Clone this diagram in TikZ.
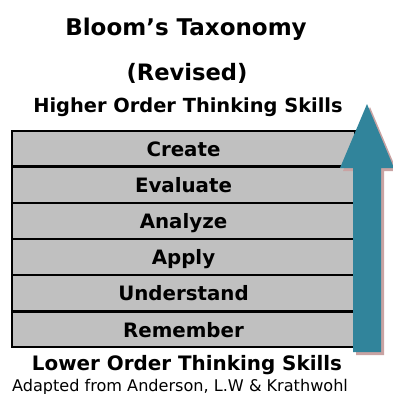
\documentclass[tikz,border=0pt]{standalone}
\usepackage{fontspec}
\setmainfont{DejaVu Sans}
\usetikzlibrary{positioning}

\definecolor{rowgray}{HTML}{C0C0C0}
\definecolor{arrowteal}{HTML}{31849B}
\definecolor{shadowpink}{HTML}{C9A3A3}

\tikzset{
  level/.style={draw=black,line width=1.2pt,fill=rowgray,minimum width=343pt,
    minimum height=35pt,inner sep=0pt,text height=15pt,text depth=0pt,
    font=\fontsize{19.8}{19.8}\selectfont\bfseries},
  heading/.style={inner sep=0pt,anchor=base,font=\fontsize{#1}{#1}\selectfont\bfseries},
  source/.style={inner sep=0pt,anchor=base,font=\fontsize{16.1}{16.1}\selectfont}
}

\begin{document}
\begin{tikzpicture}[x=1pt,y=-1pt]
\useasboundingbox (0,0) rectangle (392,394);
\node[heading=23] (title) at (186,35) {Bloom’s Taxonomy};
\node[heading=22.6] (revised) at (187,80) {(Revised)};
\node[heading=19.4] (higher) at (188,112) {Higher Order Thinking Skills};
% the six levels, top to bottom
\node[level] (create) at (183.5,148.5) {Create};
\node[level,below=0pt of create] (evaluate) {Evaluate};
\node[level,below=0pt of evaluate] (analyze) {Analyze};
\node[level,below=0pt of analyze] (apply) {Apply};
\node[level,below=0pt of apply] (understand) {Understand};
\node[level,below=0pt of understand] (remember) {Remember};
\node[heading=19.9] (lower) at (187,370) {Lower Order Thinking Skills};
\node[source] (adapted) at (180,391) {Adapted from Anderson, L.W \& Krathwohl};
% upward arrow with its shadow
\fill[shadowpink] (370,107)--(397,171)--(384,171)--(384,355)--(356,355)--(356,171)--(343,171)--cycle;
\fill[arrowteal] (367,104)--(394,168)--(381,168)--(381,352)--(353,352)--(353,168)--(340,168)--cycle;
\end{tikzpicture}
\end{document}
